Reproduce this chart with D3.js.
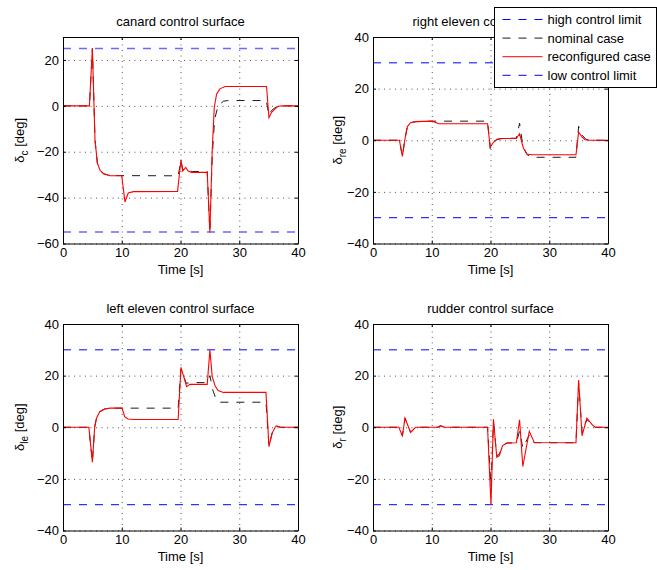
<!DOCTYPE html>
<html lang="en">
<head>
<meta charset="UTF-8">
<script src="https://cdnjs.cloudflare.com/ajax/libs/d3/7.9.0/d3.min.js"></script>
<title>Control surfaces</title>
<style>
    body {
        margin: 0;
        background: #fff;
        font-family: "Liberation Sans", Arial, sans-serif;
    }

    svg {
        display: block;
    }
</style>
</head>
<body>
<div id="chart"></div>
<script>
    const width = 657;
    const height = 570;

    const timeTicks = [0, 10, 20, 30, 40];
    const canardTicks = [-60, -40, -20, 0, 20];
    const elevonTicks = [-40, -20, 0, 20, 40];

    const canardLimits = [25, -55];
    const elevonLimits = [30, -30];
    const rudderLimits = [30, -30];

    // [time, deflection]
    const canardNominal = [[0, 0], [4.5, 0], [5.0, 25], [5.45, -15], [5.85, -25], [6.3, -28.1], [6.9, -29.6], [8, -30.4],
        [19.6, -30.5], [20.08, -24], [20.4, -28], [20.9, -27.3], [21.4, -28.3], [22, -28.6], [24.55, -28.6], [25.0, -55],
        [25.4, -22], [25.8, -6], [26.4, 0.1], [27.3, 2.0], [28, 2.3], [34.6, 2.3], [35.05, -4], [35.5, -2], [36.1, -0.8],
        [36.7, 0], [40, 0]];
    const canardReconf = [[0, 0], [4.5, 0], [5.0, 25], [5.45, -15], [5.85, -25], [6.3, -28.1], [6.9, -29.6], [8, -30.4],
        [10, -30.5], [10.55, -41.9], [11.1, -38], [12, -37.4], [19.5, -37.3], [20.08, -23.4], [20.37, -28.4], [20.88, -26.8],
        [21.3, -28.4], [21.9, -29], [24.55, -29], [25.0, -55.2], [25.4, -19.4], [25.75, -0.6], [26.15, 5.2], [26.7, 7.4],
        [27.6, 8.4], [34.65, 8.4], [35.05, -5.2], [35.5, -2.8], [36.1, -1.3], [36.6, -0.2], [37.5, 0], [40, 0]];

    const rightNominal = [[0, 0], [4.5, 0], [5.0, -6.3], [5.4, 0], [5.85, 5.3], [6.4, 6.8], [7.25, 7.2], [10, 7.4],
        [19.5, 7.4], [19.96, -3.2], [20.5, -1], [21.1, 0.3], [22, 0.7], [24.4, 0.8], [24.95, 6.6], [25.5, -2], [26.2, -5.5],
        [27, -6.6], [34.55, -6.6], [35.0, 5.4], [35.6, 2], [36.2, 0.4], [36.9, 0], [40, 0]];
    const rightReconf = [[0, 0], [4.5, 0], [5.0, -6.3], [5.4, 0], [5.85, 5.3], [6.4, 6.8], [7.25, 7.2], [10.1, 7.4],
        [11.2, 6.4], [19.5, 6.4], [19.96, -2.7], [20.5, -0.8], [21.1, 0.4], [22, 0.7], [24.4, 0.7], [24.95, 2.5],
        [25.6, -3.1], [26.2, -5.3], [27, -5.6], [34.55, -5.6], [35.0, 3.1], [35.6, 1.2], [36.1, 0.2], [36.8, 0], [40, 0]];

    const leftNominal = [[0, 0], [4.4, 0], [5.0, -13.5], [5.4, 0.2], [5.7, 3.5], [6.25, 6.0], [7.1, 7.1], [8, 7.4],
        [19.6, 7.4], [20.08, 22.5], [21.0, 17], [21.6, 17.3], [24.55, 17.3], [25.0, 20], [25.5, 14.4], [26.0, 11.2],
        [26.6, 9.7], [34.55, 9.7], [35.06, -7.3], [35.6, -2.2], [36.1, 0], [36.3, 0.5], [37, 0], [40, 0]];
    const leftReconf = [[0, 0], [4.4, 0], [5.0, -13.5], [5.4, 0.2], [5.7, 3.5], [6.25, 6.0], [7.1, 7.1], [8, 7.4],
        [10.05, 7.4], [10.5, 4.1], [11.06, 3.2], [12, 3.0], [19.6, 3.0], [20.08, 23.2], [21.05, 15.7], [21.6, 16.6],
        [24.55, 16.6], [25.0, 29.9], [25.4, 19.6], [25.9, 16], [26.4, 14.2], [27.3, 13.5], [34.55, 13.5], [35.06, -7.5],
        [35.6, -2.3], [36.1, 0], [36.3, 0.5], [37, 0], [40, 0]];

    const rudderNominal = [[0, 0], [4.4, 0], [5.0, -3.3], [5.45, 3.5], [6.4, -2.0], [7.25, 0], [11, 0], [11.5, 0.5],
        [12.2, 0], [19.5, 0], [20.08, -23], [20.5, 2], [21.07, -11], [21.5, -10.5], [22.06, -7], [22.8, -6.1], [24.4, -6],
        [24.95, -1.5], [25.5, -8], [26.6, -3], [27.45, -6], [34.55, -6], [35.0, 17], [35.58, -2], [36.4, 3.0], [37.3, 0.8],
        [37.8, 0], [40, 0]];
    const rudderReconf = [[0, 0], [4.4, 0], [5.0, -3.3], [5.45, 3.5], [6.4, -2.0], [7.25, 0], [11, 0], [11.5, 0.6],
        [12.2, 0], [19.5, 0], [20.08, -30], [20.5, 3.1], [21.07, -11.6], [21.5, -11], [22.06, -7.1], [22.8, -6.1],
        [24.4, -6], [24.95, 2.9], [25.5, -15.2], [26.6, -1.6], [27.45, -5.9], [34.55, -6], [35.0, 18.3], [35.58, -3.3],
        [36.4, 3.5], [37.3, 1.0], [37.8, 0], [40, 0]];

    const legendLabels = ["high control limit", "nominal case", "reconfigured case", "low control limit"];

    const panels = [
        { title: "canard control surface", sub: "c", yDomain: [-60, 30], yTicks: canardTicks, limits: canardLimits,
          nominal: canardNominal, reconf: canardReconf, left: 63, top: 37, limitColor: "#6a6aff", limitWidth: 1.6 },
        { title: "right eleven control surface", sub: "re", yDomain: [-40, 40], yTicks: elevonTicks, limits: elevonLimits,
          nominal: rightNominal, reconf: rightReconf, left: 373, top: 37, limitColor: "#0000ff", limitWidth: 1 },
        { title: "left eleven control surface", sub: "le", yDomain: [-40, 40], yTicks: elevonTicks, limits: elevonLimits,
          nominal: leftNominal, reconf: leftReconf, left: 63, top: 324, limitColor: "#0000ff", limitWidth: 1 },
        { title: "rudder control surface", sub: "r", yDomain: [-40, 40], yTicks: elevonTicks, limits: rudderLimits,
          nominal: rudderNominal, reconf: rudderReconf, left: 373, top: 324, limitColor: "#0000ff", limitWidth: 1 }
    ];
    const pw = 235, ph = 206.5;
    const dash = "8,8";

    const svg = d3.select("#chart").append("svg")
        .attr("width", width)
        .attr("height", height)
        .style("background", "#fff");

    panels.forEach(p => {
        const g = svg.append("g").attr("transform", `translate(${p.left},${p.top})`);
        const x = d3.scaleLinear().domain([0, 40]).range([0, pw]);
        const y = d3.scaleLinear().domain(p.yDomain).range([ph, 0]);

        // dotted grid
        g.append("g")
            .attr("transform", `translate(0,${ph})`)
            .call(d3.axisBottom(x).tickValues(timeTicks).tickSize(-ph).tickFormat(""))
            .call(a => a.select(".domain").remove())
            .selectAll("line").attr("stroke", "#555").attr("stroke-dasharray", "1,4.5");
        g.append("g")
            .call(d3.axisLeft(y).tickValues(p.yTicks).tickSize(-pw).tickFormat(""))
            .call(a => a.select(".domain").remove())
            .selectAll("line").attr("stroke", "#555").attr("stroke-dasharray", "1,4.5");

        // control limits
        g.selectAll(".limit")
            .data(p.limits)
            .enter()
            .append("line")
            .attr("class", "limit")
            .attr("x1", 0).attr("x2", pw)
            .attr("y1", d => y(d)).attr("y2", d => y(d))
            .style("stroke", p.limitColor)
            .style("stroke-width", p.limitWidth)
            .style("stroke-dasharray", dash);

        const line = d3.line().x(d => x(d[0])).y(d => y(d[1]));

        g.append("path")
            .datum(p.nominal)
            .attr("d", line)
            .attr("fill", "none")
            .attr("stroke", "#1a1a1a")
            .attr("stroke-dasharray", dash);
        g.append("path")
            .datum(p.reconf)
            .attr("d", line)
            .attr("fill", "none")
            .attr("stroke", "#ff0000")
            .attr("stroke-width", 1.1);

        // axes with inward ticks
        g.append("g")
            .attr("transform", `translate(0,${ph})`)
            .call(d3.axisBottom(x).tickValues(timeTicks).tickSizeInner(-3).tickSizeOuter(0).tickPadding(4.5));
        g.append("g")
            .call(d3.axisLeft(y).tickValues(p.yTicks).tickSizeInner(-3).tickSizeOuter(0).tickPadding(4)
                .tickFormat(d => d < 0 ? "\u2212" + Math.abs(d) : d));
        g.append("g")
            .call(d3.axisTop(x).tickValues(timeTicks).tickSizeInner(-3).tickSizeOuter(0).tickFormat(""));
        g.append("g")
            .attr("transform", `translate(${pw},0)`)
            .call(d3.axisRight(y).tickValues(p.yTicks).tickSizeInner(-3).tickSizeOuter(0).tickFormat(""));
        g.selectAll(".tick text")
            .attr("font-family", "Liberation Sans, Arial, sans-serif")
            .attr("font-size", 13)
            .attr("fill", "#000");
        g.selectAll(".domain").attr("stroke", "#000");

        g.append("text")
            .attr("x", pw / 2)
            .attr("y", -11)
            .attr("text-anchor", "middle")
            .attr("font-size", 13)
            .text(p.title);

        g.append("text")
            .attr("x", pw / 2)
            .attr("y", ph + 30)
            .attr("text-anchor", "middle")
            .attr("font-size", 13)
            .text("Time [s]");

        const lx = p.left === 63 ? -39 : -31;
        const yl = g.append("text")
            .attr("transform", `translate(${lx},${ph / 2}) rotate(-90)`)
            .attr("text-anchor", "middle")
            .attr("font-size", 13);
        yl.append("tspan").text("\u03b4");
        yl.append("tspan").attr("font-size", 10).attr("dy", 4).text(p.sub);
        yl.append("tspan").attr("dy", -4).text(" [deg]");
    });

    // legend
    const legend = svg.append("g").attr("transform", "translate(494.5,7.5)");
    legend.append("rect")
        .attr("width", 162)
        .attr("height", 80)
        .attr("fill", "#fff")
        .attr("stroke", "#000");
    const legendStyles = [
        { stroke: "#0000ff", dash: dash },
        { stroke: "#1a1a1a", dash: dash },
        { stroke: "#ff0000", dash: "none" },
        { stroke: "#0000ff", dash: dash }
    ];
    legendLabels.forEach((label, i) => {
        const yy = 12 + i * 18.6;
        legend.append("line")
            .attr("x1", 8).attr("x2", 48)
            .attr("y1", yy).attr("y2", yy)
            .style("stroke", legendStyles[i].stroke)
            .style("stroke-dasharray", legendStyles[i].dash);
        legend.append("text")
            .attr("x", 53)
            .attr("y", yy + 4.5)
            .attr("font-size", 13)
            .text(label);
    });
</script>
</body>
</html>
